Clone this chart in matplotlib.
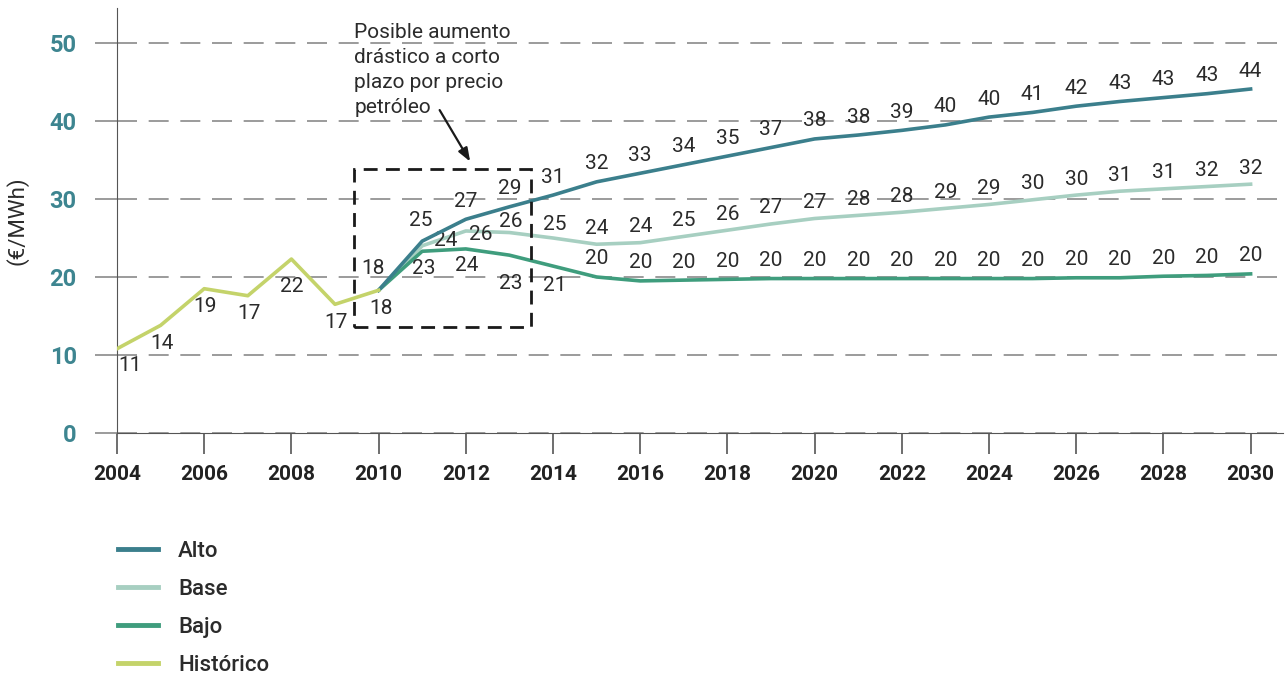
import matplotlib.pyplot as plt
from matplotlib.patches import Rectangle

years_hist = [2004, 2005, 2006, 2007, 2008, 2009, 2010]
hist = [10.8, 13.8, 18.5, 17.6, 22.3, 16.5, 18.3]
hist_lbl = [11, 14, 19, 17, 22, 17, 18]

years_proj = list(range(2010, 2031))
alto = [18.3, 24.6, 27.4, 29.0, 30.5, 32.2, 33.3, 34.4, 35.5, 36.6, 37.7,
        38.2, 38.8, 39.5, 40.5, 41.1, 41.9, 42.5, 43.0, 43.5, 44.1]
alto_lbl = [18, 25, 27, 29, 31, 32, 33, 34, 35, 37, 38,
            38, 39, 40, 40, 41, 42, 43, 43, 43, 44]
base = [18.3, 24.0, 25.9, 25.7, 25.0, 24.2, 24.4, 25.2, 26.0, 26.8, 27.5,
        27.9, 28.3, 28.8, 29.3, 29.9, 30.5, 31.0, 31.3, 31.6, 31.9]
base_lbl = [18, 24, 26, 26, 25, 24, 24, 25, 26, 27, 27,
            28, 28, 29, 29, 30, 30, 31, 31, 32, 32]
bajo = [18.3, 23.3, 23.6, 22.8, 21.4, 20.0, 19.5, 19.6, 19.7, 19.8, 19.8,
        19.8, 19.8, 19.8, 19.8, 19.8, 19.9, 19.9, 20.1, 20.2, 20.4]
bajo_lbl = [18, 23, 24, 23, 21, 20, 20, 20, 20, 20, 20,
            20, 20, 20, 20, 20, 20, 20, 20, 20, 20]

C_ALTO = "#3b7f8c"
C_BASE = "#a7cfc1"
C_BAJO = "#3f9d7d"
C_HIST = "#c4d36a"
C_TXT = "#2b2b2b"
FAM = ["Roboto", "DejaVu Sans"]
LBL_FONT = dict(family=FAM, fontsize=15, color=C_TXT, ha="center", va="center")

fig = plt.figure(figsize=(12.87, 6.79), dpi=100)
ax = fig.add_axes([117 / 1287, 1 - 433 / 679, 1166 / 1287, 425 / 679])
ax.set_xlim(2004, 2004 + 1166 / 43.6)
ax.set_ylim(0, 425 / 7.8)

l_alto, = ax.plot(years_proj, alto, color=C_ALTO, lw=2.6, label="Alto", zorder=4)
l_base, = ax.plot(years_proj, base, color=C_BASE, lw=2.6, label="Base", zorder=3)
l_bajo, = ax.plot(years_proj, bajo, color=C_BAJO, lw=2.6, label="Bajo", zorder=3)
l_hist, = ax.plot(years_hist, hist, color=C_HIST, lw=2.6, label="Histórico", zorder=5)


def put_labels(xs, ys, labels, default, special=None, skip=()):
    special = special or {}
    for x, y, v in zip(xs, ys, labels):
        if x in skip:
            continue
        dx, dy = special.get(x, default)
        ax.annotate(str(v), (x, y), xytext=(dx, dy), textcoords="offset pixels",
                    **LBL_FONT)


put_labels(years_hist, hist, hist_lbl, (1, -18),
           {2004: (13, -17), 2008: (0, -27), 2010: (2, -18)})
ax.annotate("18", (2010, 18.3), xytext=(-6, 22), textcoords="offset pixels", **LBL_FONT)
put_labels(years_proj, alto, alto_lbl, (0, 18), {2011: (-1, 21)}, skip=(2010,))
put_labels(years_proj, base, base_lbl, (0, 16),
           {2011: (23, 5), 2012: (15, -4), 2013: (1, 11), 2014: (2, 13)}, skip=(2010,))
put_labels(years_proj, bajo, bajo_lbl, (0, 18),
           {2011: (2, -17), 2012: (1, -17), 2013: (1, -28), 2014: (2, -19)}, skip=(2010,))

# dashed box + note
ax.add_patch(Rectangle((2009.44, 13.6), 4.06, 20.25, fill=False, ec="#1a1a1a",
                       lw=2.0, ls=(0, (5, 3)), zorder=6))
ax.text(2009.44, 52.6, "Posible aumento\ndrástico a corto\nplazo por precio\npetróleo",
        ha="left", va="top", fontsize=15, color=C_TXT, linespacing=1.4, family=FAM)
ax.annotate("", xy=(2012.1, 34.8), xytext=(2011.4, 41.4),
            arrowprops=dict(arrowstyle="-|>,head_length=0.8,head_width=0.3",
                            color="#1a1a1a", lw=1.6, shrinkA=0, shrinkB=0))

ax.set_yticks([0, 10, 20, 30, 40, 50])
ax.set_xticks(range(2004, 2031, 2))
ax.grid(axis="y", color="#8a8a8a", lw=1.2, ls=(0, (12, 7)))
ax.set_axisbelow(True)
for s in ("top", "right"):
    ax.spines[s].set_visible(False)
ax.spines["left"].set_color("#555555")
ax.spines["bottom"].set_color("#555555")
ax.tick_params(axis="y", length=16, width=1.2, color="#8a8a8a", pad=13,
               labelsize=17, labelcolor="#3d8590")
ax.tick_params(axis="x", length=15, width=1.2, color="#555555", pad=8,
               labelsize=15, labelcolor="#222222")
for t in ax.get_yticklabels() + ax.get_xticklabels():
    t.set_fontweight("bold")
    t.set_family(FAM)
ax.set_ylabel("(€/MWh)", fontsize=16, color=C_TXT, family=FAM)
ax.yaxis.set_label_coords(-0.076, 0.5)

leg = fig.legend(handles=[l_alto, l_base, l_bajo, l_hist], loc="upper left",
                 bbox_to_anchor=(98 / 1287, 1 - 521 / 679), frameon=False,
                 handlelength=1.8, handletextpad=0.9, labelspacing=0.76,
                 prop=dict(family=FAM, size=16, weight="medium"))
for h in leg.get_lines():
    h.set_linewidth(3.5)
for t in leg.get_texts():
    t.set_color(C_TXT)

fig.savefig("out.png", dpi=100)
